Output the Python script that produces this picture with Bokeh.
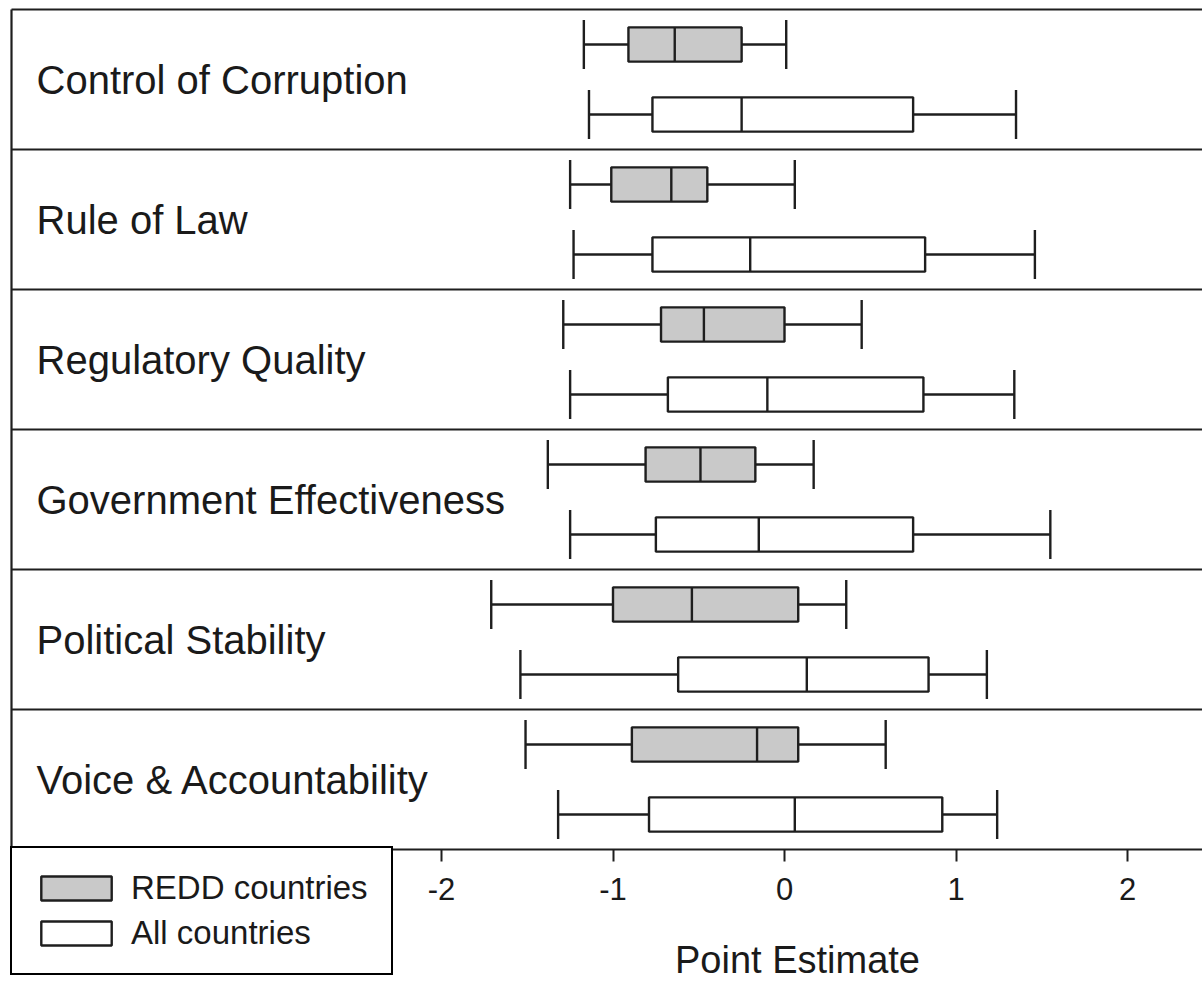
from bokeh.plotting import figure
from bokeh.models import Legend, LegendItem, Label, FixedTicker, Range1d
from bokeh.embed import file_html
from bokeh.resources import INLINE
from bokeh.core.properties import value

indicators = ["Control of Corruption", "Rule of Law", "Regulatory Quality",
              "Government Effectiveness", "Political Stability", "Voice & Accountability"]

# REDD countries: whisker low, Q1, median, Q3, whisker high
redd_low = [-1.17, -1.25, -1.29, -1.38, -1.71, -1.51]
redd_q1 = [-0.91, -1.01, -0.72, -0.81, -1.00, -0.89]
redd_med = [-0.64, -0.66, -0.47, -0.49, -0.54, -0.16]
redd_q3 = [-0.25, -0.45, 0.00, -0.17, 0.08, 0.08]
redd_high = [0.01, 0.06, 0.45, 0.17, 0.36, 0.59]

# All countries
all_low = [-1.14, -1.23, -1.25, -1.25, -1.54, -1.32]
all_q1 = [-0.77, -0.77, -0.68, -0.75, -0.62, -0.79]
all_med = [-0.25, -0.20, -0.10, -0.15, 0.13, 0.06]
all_q3 = [0.75, 0.82, 0.81, 0.75, 0.84, 0.92]
all_high = [1.35, 1.46, 1.34, 1.55, 1.18, 1.24]

x_ticks = [-2, -1, 0, 1, 2]
x_tick_labels = ["-2", "-1", "0", "1", "2"]
legend_labels = ["REDD countries", "All countries"]
x_label = "Point Estimate"

FONT = "Liberation Sans"
INK = "#1e1e1e"
TXT = "#1a1a1a"
GREY = "#c9c9c9"

W, H = 1202, 983
PX_PER_X = 171.5      # pixels per x unit
PX_PER_Y = 140.0      # pixels per panel
X0_PIX = 784          # pixel of x = 0
TOP_PIX = 9           # pixel of the top frame line
n = len(indicators)

x_start = -X0_PIX / PX_PER_X
x_end = x_start + W / PX_PER_X
y_end = n + TOP_PIX / PX_PER_Y
y_start = y_end - H / PX_PER_Y
x_left = (11 - X0_PIX) / PX_PER_X

panel_mid = [n - 1 - i + 0.5 for i in range(n)]
y_redd = [m + 0.25 for m in panel_mid]
y_all = [m - 0.25 for m in panel_mid]

p = figure(width=W, height=H, output_backend="svg", toolbar_location=None,
           x_range=Range1d(x_start, x_end), y_range=Range1d(y_start, y_end),
           min_border_left=0, min_border_right=0, min_border_top=0, min_border_bottom=0)
p.outline_line_color = None
p.grid.visible = False
p.yaxis.visible = False
p.background_fill_color = "white"
p.border_fill_color = "white"

LW = 2.4
BOX_H = 0.245
CAP = 0.175

# frame: left border and panel separators
p.segment(x0=[x_left], y0=[0], x1=[x_left], y1=[n], line_color=INK, line_width=2.2)
seps = list(range(1, n + 1))
p.segment(x0=[x_left] * len(seps), y0=seps, x1=[x_end] * len(seps), y1=seps,
          line_color=INK, line_width=2.2)


def draw(lo, q1, med, q3, hi, ys, fill):
    p.segment(x0=lo, y0=ys, x1=q1, y1=ys, line_color=INK, line_width=LW)
    p.segment(x0=q3, y0=ys, x1=hi, y1=ys, line_color=INK, line_width=LW)
    p.segment(x0=lo, y0=[y - CAP for y in ys], x1=lo, y1=[y + CAP for y in ys],
              line_color=INK, line_width=LW)
    p.segment(x0=hi, y0=[y - CAP for y in ys], x1=hi, y1=[y + CAP for y in ys],
              line_color=INK, line_width=LW)
    r = p.hbar(y=ys, left=q1, right=q3, height=BOX_H, fill_color=fill,
               line_color=INK, line_width=LW)
    p.segment(x0=med, y0=[y - BOX_H / 2 for y in ys], x1=med,
              y1=[y + BOX_H / 2 for y in ys], line_color=INK, line_width=LW)
    return r


r_redd = draw(redd_low, redd_q1, redd_med, redd_q3, redd_high, y_redd, GREY)
r_all = draw(all_low, all_q1, all_med, all_q3, all_high, y_all, "white")

p.text(x=[(36 - X0_PIX) / PX_PER_X] * n, y=panel_mid, text=indicators, text_font=value(FONT),
       text_font_size="40px", text_baseline="middle", text_align="left",
       text_color=TXT)

ax = p.xaxis[0]
ax.fixed_location = 0
ax.bounds = (x_left, x_end)
ax.ticker = FixedTicker(ticks=x_ticks)
ax.major_label_overrides = dict(zip(x_ticks, x_tick_labels))
ax.minor_tick_line_color = None
ax.major_tick_in = 0
ax.major_tick_out = 12
ax.major_tick_line_width = 2
ax.major_tick_line_color = INK
ax.axis_line_width = 2.2
ax.axis_line_color = INK
ax.major_label_text_font = FONT
ax.major_label_text_font_size = "31px"
ax.major_label_text_color = TXT
ax.major_label_standoff = 16

p.add_layout(Label(x=(797 - X0_PIX) / PX_PER_X, y=-(959 - 849) / PX_PER_Y,
                   x_units="data", y_units="data",
                   text=x_label, text_align="center", text_baseline="middle",
                   text_font=FONT, text_font_size="38px", text_color=TXT))

legend = Legend(items=[LegendItem(label=legend_labels[0], renderers=[r_redd]),
                       LegendItem(label=legend_labels[1], renderers=[r_all])],
                location=(10, 8), padding=20, spacing=5,
                glyph_width=88, glyph_height=30, label_standoff=11,
                label_height=40, label_width=240,
                label_text_font=FONT, label_text_font_size="33px",
                label_text_color=TXT,
                border_line_color="black", border_line_width=2, border_line_alpha=1.0,
                background_fill_color="white", background_fill_alpha=1.0)
p.add_layout(legend, "center")

open("out.html", "w").write(file_html(p, INLINE))
